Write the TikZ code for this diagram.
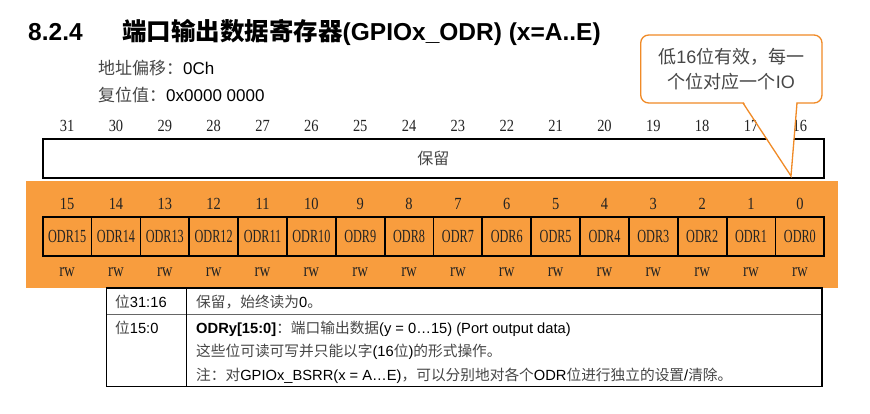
\documentclass[tikz,border=0pt]{standalone}
\usepackage{graphicx}
\usepackage{fontspec}
\setmainfont{Liberation Serif}
\setsansfont{Liberation Sans}
\newfontfamily\cjk{Noto Sans CJK SC}
\definecolor{band}{RGB}{248,157,62}
\definecolor{callorange}{RGB}{240,138,38}
\definecolor{txt}{RGB}{35,35,35}
\definecolor{zhgray}{RGB}{70,70,70}
\newcommand{\zh}[1]{{\cjk #1}}
\newcommand{\nw}[3]{\scalebox{#1}[1]{\fontsize{#2}{#2}\selectfont #3}}
\tikzset{
  ttl/.style={anchor=base west, inner sep=0pt, text=black, font=\sffamily\bfseries\fontsize{24.5}{28}\selectfont},
  infotxt/.style={anchor=base west, inner sep=0pt, text=black, font=\sffamily\fontsize{17}{20}\selectfont},
  bitnum/.style={anchor=base, inner sep=0pt, text=txt, font=\rmfamily},
  cellbox/.style={draw=black, line width=1.8pt, minimum width=48.85pt, minimum height=38.5pt, inner sep=0pt, text=txt, font=\rmfamily},
  rwlbl/.style={anchor=base, inner sep=0pt, text=txt, font=\rmfamily},
  resbox/.style={draw=black, line width=1.8pt, minimum width=781.3pt, minimum height=39pt, inner sep=0pt, text=zhgray, font=\fontsize{16}{18}\selectfont},
  callbox/.style={draw=callorange, fill=white, line width=1.3pt, rounded corners=8pt, minimum width=181.3pt, minimum height=68pt, inner sep=0pt, align=center, text=zhgray, font=\sffamily\fontsize{18}{25}\selectfont},
  callline/.style={draw=callorange, line width=1.3pt, line join=miter},
  tabtxt/.style={anchor=base west, inner sep=0pt, text=black, font=\sffamily\fontsize{14.7}{17}\selectfont},
  tabline/.style={draw=black, line width=1.1pt},
  tabsep/.style={draw=black!60, line width=1pt}
}
\begin{document}
\begin{tikzpicture}[x=1pt,y=-1pt]
\useasboundingbox[fill=white] (0,0) rectangle (870,414);

% title
\node[ttl] (num) at (28,41) {8.2.4};
\node[ttl] (title) at (122,41) {\zh{端口输出数据寄存器}(GPIOx\_ODR) (x=A..E)};
\node[infotxt] (addr) at (98,75) {\zh{\color{zhgray}地址偏移：}0Ch};
\node[infotxt] (reset) at (98,102) {\zh{\color{zhgray}复位值：}0x0000 0000};

% upper bit numbers
\foreach \i in {0,...,15}{
  \pgfmathtruncatemacro{\bit}{31-\i}
  \node[bitnum] (t\bit) at ({42.7+48.85*(\i+0.5)},131.5) {\nw{0.85}{17}{\bit}};
}
\node[resbox] (res) at (433.35,158.5) {\zh{保留}};

% orange band
\fill[band] (26,181) rectangle (838,288);

% lower bits
\foreach \i in {0,...,15}{
  \pgfmathtruncatemacro{\bit}{15-\i}
  \node[bitnum] (b\bit) at ({42.7+48.85*(\i+0.5)},210) {\nw{0.85}{17}{\bit}};
  \node[cellbox] (c\bit) at ({42.7+48.85*(\i+0.5)},236.5) {\nw{0.66}{18.5}{ODR\bit}};
  \node[rwlbl] (rw\bit) at ({42.7+48.85*(\i+0.5)},276) {\nw{0.78}{19}{rw}};
}

% table
\draw[tabsep] (106.7,314) -- (822,314);
\draw[tabline] (106.7,288) rectangle (822,386.7);
\draw[tabline] (186.7,288) -- (186.7,386.7);
\node[tabtxt] (r1a) at (115,307) {\zh{\color{zhgray}位}31:16};
\node[tabtxt] (r1b) at (196,307) {\zh{\color{zhgray}保留，始终读为}0\zh{\color{zhgray}。}};
\node[tabtxt] (r2a) at (115,333) {\zh{\color{zhgray}位}15:0};
\node[tabtxt] (r2b) at (196,333) {\textbf{ODRy[15:0]}\zh{\color{zhgray}：端口输出数据}(y = 0…15) (Port output data)};
\node[tabtxt] (r2c) at (196,356) {\zh{\color{zhgray}这些位可读可写并只能以字}(16\zh{\color{zhgray}位})\zh{\color{zhgray}的形式操作。}};
\node[tabtxt] (r2d) at (196,380) {\zh{\color{zhgray}注：对}GPIOx\_BSRR(x = A…E)\zh{\color{zhgray}，可以分别地对各个}ODR\zh{\color{zhgray}位进行独立的设置}/\zh{\color{zhgray}清除。}};

% callout
\node[callbox] (call) at (731.35,69) {\zh{低}16\zh{位有效，每一}\\\zh{个位对应一个}IO};
\coordinate (pl) at (743,103);
\coordinate (pr) at (797,103);
\coordinate (tip) at (791,176);
\fill[white] (743.5,101.4) -- (796.5,101.4) -- (tip) -- cycle;
\draw[callline] (pl) -- (tip) -- (pr);
\end{tikzpicture}
\end{document}
